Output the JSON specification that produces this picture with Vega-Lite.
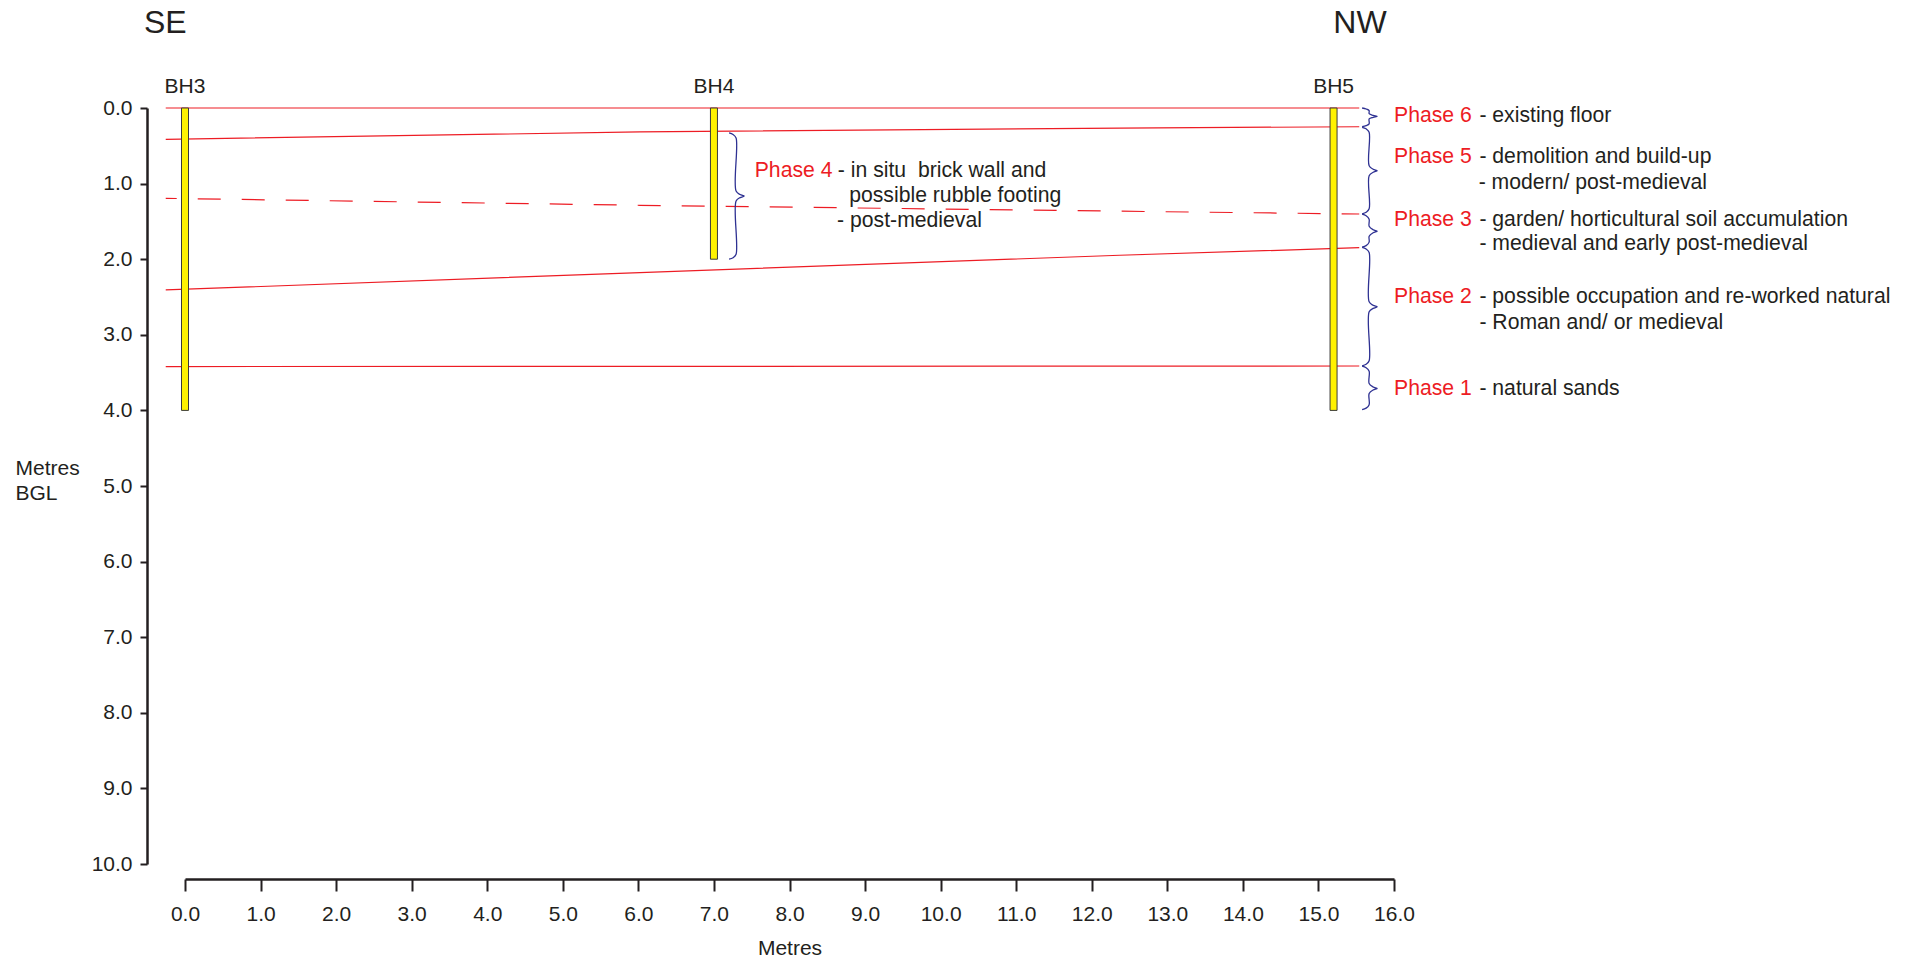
{
  "$schema": "https://vega.github.io/schema/vega-lite/v6.json",
  "width": 1209,
  "height": 756,
  "autosize": {"type": "none"},
  "padding": {"left": 185, "top": 108, "right": 527, "bottom": 99},
  "background": "white",
  "config": {"view": {"stroke": null}, "font": "Liberation Sans"},
  "datasets": {
    "boundaries": [
      {"line": "A", "style": "solid", "x": -0.255, "y": 0.0},
      {"line": "A", "style": "solid", "x": 15.54, "y": 0.0},
      {"line": "B", "style": "solid", "x": -0.255, "y": 0.414},
      {"line": "B", "style": "solid", "x": 6.02, "y": 0.317},
      {"line": "B", "style": "solid", "x": 12.37, "y": 0.265},
      {"line": "B", "style": "solid", "x": 15.54, "y": 0.248},
      {"line": "C", "style": "dashed", "x": -0.255, "y": 1.195},
      {"line": "C", "style": "dashed", "x": 6.02, "y": 1.287},
      {"line": "C", "style": "dashed", "x": 12.11, "y": 1.362},
      {"line": "C", "style": "dashed", "x": 15.54, "y": 1.402},
      {"line": "D", "style": "solid", "x": -0.255, "y": 2.407},
      {"line": "D", "style": "solid", "x": 6.02, "y": 2.177},
      {"line": "D", "style": "solid", "x": 12.37, "y": 1.948},
      {"line": "D", "style": "solid", "x": 15.54, "y": 1.848},
      {"line": "E", "style": "solid", "x": -0.255, "y": 3.42},
      {"line": "E", "style": "solid", "x": 15.54, "y": 3.413}
    ],
    "boreholes": [
      {"name": "BH3", "x": 0.0, "y": 0.0, "y2": 4.0},
      {"name": "BH4", "x": 7.0, "y": 0.0, "y2": 2.0},
      {"name": "BH5", "x": 15.2, "y": 0.0, "y2": 4.0}
    ],
    "braces": [
      {"b": "P6", "i": 0, "x": 15.578, "y": 0.0},
      {"b": "P6", "i": 1, "x": 15.631, "y": 0.013},
      {"b": "P6", "i": 2, "x": 15.671, "y": 0.035},
      {"b": "P6", "i": 3, "x": 15.671, "y": 0.075},
      {"b": "P6", "i": 4, "x": 15.724, "y": 0.097},
      {"b": "P6", "i": 5, "x": 15.777, "y": 0.11},
      {"b": "P6", "i": 6, "x": 15.724, "y": 0.123},
      {"b": "P6", "i": 7, "x": 15.671, "y": 0.145},
      {"b": "P6", "i": 8, "x": 15.671, "y": 0.21},
      {"b": "P6", "i": 9, "x": 15.631, "y": 0.232},
      {"b": "P6", "i": 10, "x": 15.578, "y": 0.245},
      {"b": "P5", "i": 0, "x": 15.578, "y": 0.255},
      {"b": "P5", "i": 1, "x": 15.631, "y": 0.275},
      {"b": "P5", "i": 2, "x": 15.671, "y": 0.321},
      {"b": "P5", "i": 3, "x": 15.671, "y": 0.764},
      {"b": "P5", "i": 4, "x": 15.724, "y": 0.81},
      {"b": "P5", "i": 5, "x": 15.777, "y": 0.83},
      {"b": "P5", "i": 6, "x": 15.724, "y": 0.85},
      {"b": "P5", "i": 7, "x": 15.671, "y": 0.896},
      {"b": "P5", "i": 8, "x": 15.671, "y": 1.334},
      {"b": "P5", "i": 9, "x": 15.631, "y": 1.38},
      {"b": "P5", "i": 10, "x": 15.578, "y": 1.4},
      {"b": "P3", "i": 0, "x": 15.578, "y": 1.405},
      {"b": "P3", "i": 1, "x": 15.631, "y": 1.425},
      {"b": "P3", "i": 2, "x": 15.671, "y": 1.471},
      {"b": "P3", "i": 3, "x": 15.671, "y": 1.564},
      {"b": "P3", "i": 4, "x": 15.724, "y": 1.61},
      {"b": "P3", "i": 5, "x": 15.777, "y": 1.63},
      {"b": "P3", "i": 6, "x": 15.724, "y": 1.65},
      {"b": "P3", "i": 7, "x": 15.671, "y": 1.696},
      {"b": "P3", "i": 8, "x": 15.671, "y": 1.774},
      {"b": "P3", "i": 9, "x": 15.631, "y": 1.82},
      {"b": "P3", "i": 10, "x": 15.578, "y": 1.84},
      {"b": "P2", "i": 0, "x": 15.578, "y": 1.845},
      {"b": "P2", "i": 1, "x": 15.631, "y": 1.865},
      {"b": "P2", "i": 2, "x": 15.671, "y": 1.911},
      {"b": "P2", "i": 3, "x": 15.671, "y": 2.564},
      {"b": "P2", "i": 4, "x": 15.724, "y": 2.61},
      {"b": "P2", "i": 5, "x": 15.777, "y": 2.63},
      {"b": "P2", "i": 6, "x": 15.724, "y": 2.65},
      {"b": "P2", "i": 7, "x": 15.671, "y": 2.696},
      {"b": "P2", "i": 8, "x": 15.671, "y": 3.344},
      {"b": "P2", "i": 9, "x": 15.631, "y": 3.39},
      {"b": "P2", "i": 10, "x": 15.578, "y": 3.41},
      {"b": "P1", "i": 0, "x": 15.578, "y": 3.415},
      {"b": "P1", "i": 1, "x": 15.631, "y": 3.435},
      {"b": "P1", "i": 2, "x": 15.671, "y": 3.481},
      {"b": "P1", "i": 3, "x": 15.671, "y": 3.644},
      {"b": "P1", "i": 4, "x": 15.724, "y": 3.69},
      {"b": "P1", "i": 5, "x": 15.777, "y": 3.71},
      {"b": "P1", "i": 6, "x": 15.724, "y": 3.73},
      {"b": "P1", "i": 7, "x": 15.671, "y": 3.776},
      {"b": "P1", "i": 8, "x": 15.671, "y": 3.924},
      {"b": "P1", "i": 9, "x": 15.631, "y": 3.97},
      {"b": "P1", "i": 10, "x": 15.578, "y": 3.99},
      {"b": "P4", "i": 0, "x": 7.2, "y": 0.33},
      {"b": "P4", "i": 1, "x": 7.253, "y": 0.35},
      {"b": "P4", "i": 2, "x": 7.293, "y": 0.396},
      {"b": "P4", "i": 3, "x": 7.293, "y": 1.099},
      {"b": "P4", "i": 4, "x": 7.346, "y": 1.145},
      {"b": "P4", "i": 5, "x": 7.4, "y": 1.165},
      {"b": "P4", "i": 6, "x": 7.346, "y": 1.185},
      {"b": "P4", "i": 7, "x": 7.293, "y": 1.231},
      {"b": "P4", "i": 8, "x": 7.293, "y": 1.934},
      {"b": "P4", "i": 9, "x": 7.253, "y": 1.98},
      {"b": "P4", "i": 10, "x": 7.2, "y": 2.0}
    ],
    "labels": [
      {"x": 16.0, "y": 0.11, "text": "Phase 6", "kind": "phase"},
      {"x": 17.13, "y": 0.11, "text": "- existing floor", "kind": "desc"},
      {"x": 16.0, "y": 0.65, "text": "Phase 5", "kind": "phase"},
      {"x": 17.13, "y": 0.65, "text": "- demolition and build-up", "kind": "desc"},
      {"x": 17.12, "y": 0.99, "text": "- modern/ post-medieval", "kind": "desc"},
      {"x": 16.0, "y": 1.475, "text": "Phase 3", "kind": "phase"},
      {"x": 17.13, "y": 1.475, "text": "- garden/ horticultural soil accumulation", "kind": "desc"},
      {"x": 17.13, "y": 1.805, "text": "- medieval and early post-medieval", "kind": "desc"},
      {"x": 16.0, "y": 2.5, "text": "Phase 2", "kind": "phase"},
      {"x": 17.13, "y": 2.5, "text": "- possible occupation and re-worked natural", "kind": "desc"},
      {"x": 17.13, "y": 2.84, "text": "- Roman and/ or medieval", "kind": "desc"},
      {"x": 16.0, "y": 3.72, "text": "Phase 1", "kind": "phase"},
      {"x": 17.13, "y": 3.72, "text": "- natural sands", "kind": "desc"},
      {"x": 7.54, "y": 0.83, "text": "Phase 4", "kind": "phase"},
      {"x": 8.64, "y": 0.83, "text": "- in situ\u00a0 brick wall and", "kind": "desc"},
      {"x": 8.79, "y": 1.165, "text": "possible rubble footing", "kind": "desc"},
      {"x": 8.63, "y": 1.5, "text": "- post-medieval", "kind": "desc"}
    ],
    "headers": [
      {"x": -0.26, "y": -1.12, "text": "SE"},
      {"x": 15.55, "y": -1.12, "text": "NW"}
    ]
  },
  "layer": [
    {
      "data": {"name": "boundaries"},
      "transform": [{"filter": "datum.style === 'solid'"}],
      "mark": {"type": "line", "color": "#ED1C24", "strokeWidth": 1.2},
      "encoding": {
        "x": {
          "field": "x", "type": "quantitative",
          "scale": {"domain": [0, 16], "nice": false, "zero": false, "padding": 0},
          "axis": {
            "orient": "bottom", "offset": 15,
            "values": [0, 1, 2, 3, 4, 5, 6, 7, 8, 9, 10, 11, 12, 13, 14, 15, 16],
            "format": ".1f", "labelFlush": false, "labelOverlap": false,
            "grid": false, "tickSize": 12, "tickWidth": 2, "domainWidth": 2.5,
            "domainColor": "#231F20", "tickColor": "#231F20",
            "labelColor": "#231F20", "labelFontSize": 21, "labelFont": "Liberation Sans",
            "labelPadding": 12,
            "title": "Metres", "titleFontSize": 21, "titleFont": "Liberation Sans",
            "titleFontWeight": "normal", "titleColor": "#231F20",
            "titleY": 69, "titleBaseline": "middle"
          }
        },
        "y": {
          "field": "y", "type": "quantitative",
          "scale": {"domain": [0, 10], "reverse": true, "nice": false, "zero": false, "padding": 0},
          "axis": {
            "orient": "left", "offset": 38,
            "values": [0, 1, 2, 3, 4, 5, 6, 7, 8, 9, 10],
            "format": ".1f", "labelFlush": false, "labelOverlap": false,
            "grid": false, "tickSize": 7, "tickWidth": 2, "domainWidth": 2.5,
            "domainColor": "#231F20", "tickColor": "#231F20",
            "labelColor": "#231F20", "labelFontSize": 21, "labelFont": "Liberation Sans",
            "labelPadding": 8,
            "title": ["Metres", "BGL"], "titleFontSize": 21, "titleFont": "Liberation Sans",
            "titleFontWeight": "normal", "titleColor": "#231F20",
            "titleAngle": 0, "titleAlign": "left", "titleBaseline": "top",
            "titleX": -132, "titleY": 349, "titleLineHeight": 25
          }
        },
        "detail": {"field": "line"}
      }
    },
    {
      "data": {"name": "boundaries"},
      "transform": [{"filter": "datum.style === 'dashed'"}],
      "mark": {"type": "line", "color": "#ED1C24", "strokeWidth": 1.2, "strokeDash": [23, 21], "strokeDashOffset": 12},
      "encoding": {
        "x": {"field": "x", "type": "quantitative"},
        "y": {"field": "y", "type": "quantitative"},
        "detail": {"field": "line"}
      }
    },
    {
      "data": {"name": "boreholes"},
      "mark": {"type": "bar", "size": 7, "color": "#FFF200", "stroke": "#3A3A3A", "strokeWidth": 1},
      "encoding": {
        "x": {"field": "x", "type": "quantitative"},
        "y": {"field": "y", "type": "quantitative"},
        "y2": {"field": "y2"}
      }
    },
    {
      "data": {"name": "boreholes"},
      "mark": {"type": "text", "fontSize": 21, "font": "Liberation Sans", "color": "#231F20", "align": "center", "baseline": "middle"},
      "encoding": {
        "x": {"field": "x", "type": "quantitative"},
        "y": {"datum": -0.28},
        "text": {"field": "name"}
      }
    },
    {
      "data": {"name": "braces"},
      "mark": {"type": "line", "color": "#2E3192", "strokeWidth": 1.3, "interpolate": "catmull-rom"},
      "encoding": {
        "x": {"field": "x", "type": "quantitative"},
        "y": {"field": "y", "type": "quantitative"},
        "detail": {"field": "b"},
        "order": {"field": "i", "type": "quantitative"}
      }
    },
    {
      "data": {"name": "labels"},
      "mark": {"type": "text", "fontSize": 21.2, "font": "Liberation Sans", "align": "left", "baseline": "middle"},
      "encoding": {
        "x": {"field": "x", "type": "quantitative"},
        "y": {"field": "y", "type": "quantitative"},
        "text": {"field": "text"},
        "color": {
          "field": "kind", "type": "nominal",
          "scale": {"domain": ["phase", "desc"], "range": ["#ED1C24", "#231F20"]},
          "legend": null
        }
      }
    },
    {
      "data": {"name": "headers"},
      "mark": {"type": "text", "fontSize": 32, "font": "Liberation Sans", "color": "#231F20", "align": "center", "baseline": "middle"},
      "encoding": {
        "x": {"field": "x", "type": "quantitative"},
        "y": {"field": "y", "type": "quantitative"},
        "text": {"field": "text"}
      }
    }
  ]
}
